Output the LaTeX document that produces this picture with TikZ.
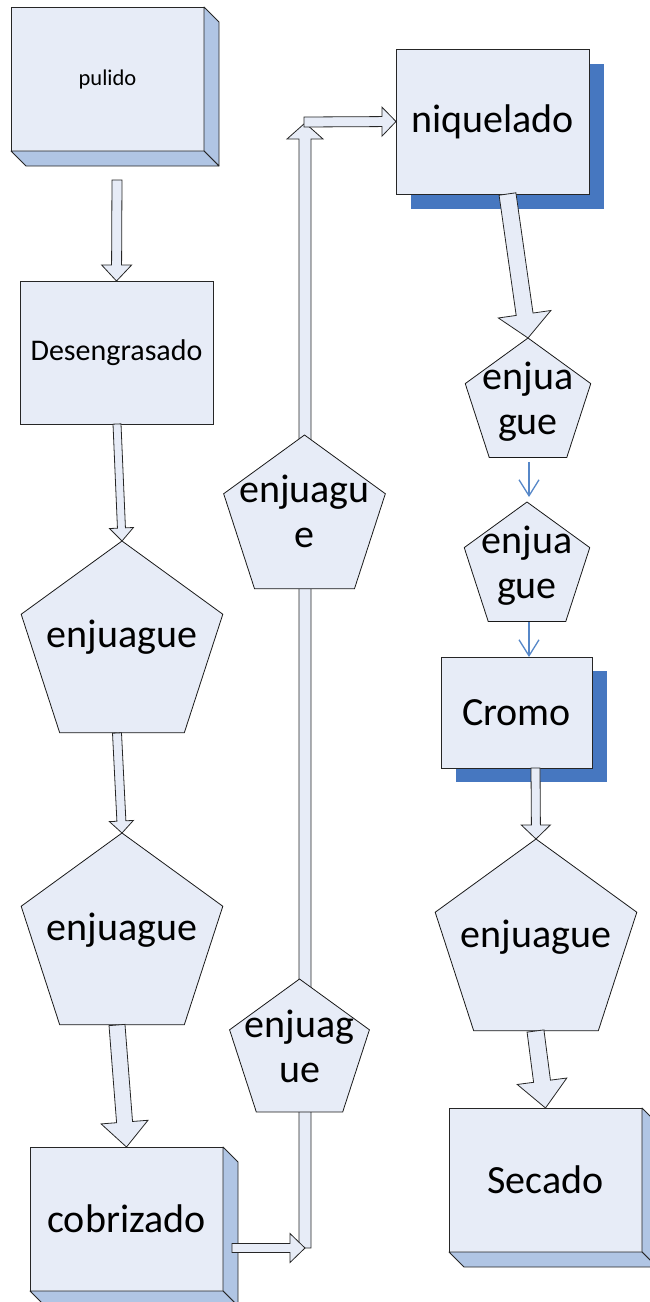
\documentclass[tikz,border=0pt]{standalone}
\usepackage{fontspec}
\setmainfont{Carlito}
\usetikzlibrary{calc,shapes.geometric,arrows.meta,shadows}
\definecolor{fillc}{RGB}{231,236,247}
\definecolor{sidec}{RGB}{176,197,228}
\definecolor{shadowc}{RGB}{70,119,192}
\definecolor{bluec}{RGB}{86,135,200}
\newcommand\barrow[5]{%
  \coordinate (bab) at ($(#2)!#5!(#1)$);
  \draw[blockarrow] ($(#1)!#3!90:(#2)$) -- ($(bab)!#3!90:(#2)$) -- ($(bab)!#4!90:(#2)$) -- (#2)
    -- ($(bab)!#4!-90:(#2)$) -- ($(bab)!#3!-90:(#2)$) -- ($(#1)!#3!-90:(#2)$) -- cycle;
}
\newcommand\threedsides[1]{%
  \draw[sideface] (#1.north east) -- ++(15,15) -- ($(#1.south east)+(15,15)$) -- (#1.south east) -- cycle;
  \draw[sideface] (#1.south west) -- ++(15,15) -- ($(#1.south east)+(15,15)$) -- (#1.south east) -- cycle;
}
\begin{document}
\begin{tikzpicture}[x=1pt,y=-1pt,
  box/.style={draw=black!85, line width=0.9pt, fill=fillc, rectangle, inner sep=0pt, outer sep=0pt},
  pentagon/.style={draw=black!90, line width=0.8pt, fill=fillc, regular polygon, regular polygon sides=5, inner sep=0pt, outer sep=0pt},
  bigtext/.style={font=\fontsize{40}{45}\selectfont, align=center},
  shad/.style={general shadow={fill=shadowc, draw=none, shadow xshift=15pt, shadow yshift=-15pt}},
  blockarrow/.style={draw=black!85, line width=0.8pt, fill=fillc, line join=miter},
  blueline/.style={draw=bluec, line width=1.3pt, -{Straight Barb[length=16pt,width=20pt,line width=1.3pt]}},
  sideface/.style={fill=sidec, draw=black!85, line width=0.8pt, line join=round}
]
\useasboundingbox (0,0) rectangle (649,1302);

% left column
\node[box, minimum width=193pt, minimum height=144pt, font=\fontsize{22.5}{26}\selectfont] (pulido) at (107.5,79) {pulido};
\threedsides{pulido}
\node[box, minimum width=193pt, minimum height=143pt, font=\fontsize{30}{34}\selectfont] (desen) at (116.5,352.5) {Desengrasado};
\node[pentagon, minimum size=212pt, label={[bigtext, yshift=10pt]center:enjuague}] (enj1) at (122,647) {};
\node[pentagon, minimum size=212pt, label={[bigtext, yshift=9pt]center:enjuague}] (enj2) at (122,939) {};
\node[box, minimum width=193pt, minimum height=144pt, font=\fontsize{40}{45}\selectfont] (cobr) at (126.5,1219) {cobrizado};
\threedsides{cobr}

% middle column: long return arrow
\coordinate (a6s) at (305,1248);
\coordinate (a6e) at (305,123);
\barrow{a6s}{a6e}{6pt}{18pt}{16pt}
\node[pentagon, minimum size=147pt, label={[bigtext, yshift=6.5pt]center:enjuag\\ue}] (enj3) at (299.5,1052.5) {};
\node[pentagon, minimum size=170pt, label={[bigtext, yshift=9pt]center:enjuagu\\e}] (enj4) at (304.5,520) {};

% right column
\node[box, shad, minimum width=193pt, minimum height=145pt, font=\fontsize{40}{45}\selectfont] (niq) at (492.5,121.5) {niquelado};
\node[pentagon, minimum size=132pt, label={[bigtext, yshift=2pt]center:enjua\\gue}] (enj5) at (528,404) {};
\node[pentagon, minimum size=132pt, label={[bigtext, yshift=2pt]center:enjua\\gue}] (enj6) at (527,568) {};
\node[box, general shadow={fill=shadowc, draw=none, shadow xshift=15pt, shadow yshift=-14pt}, minimum width=151pt, minimum height=111pt, font=\fontsize{40}{45}\selectfont] (cromo) at (516.5,712.5) {Cromo};
\node[pentagon, minimum size=212pt, label={[bigtext, yshift=8pt]center:enjuague}] (enj7) at (536,945) {};
\node[box, minimum width=193pt, minimum height=144pt, font=\fontsize{40}{45}\selectfont] (secado) at (545.5,1180) {Secado};
\threedsides{secado}

% block arrows
\coordinate (a1s) at (117,180);
\barrow{a1s}{desen.north}{5pt}{15pt}{16pt}
\coordinate (a2s) at (117,424);
\barrow{a2s}{enj1.north}{4pt}{12pt}{13pt}
\coordinate (a3s) at (117,733);
\barrow{a3s}{enj2.north}{4.5pt}{12pt}{12pt}
\coordinate (a4s) at (117,1025);
\barrow{a4s}{cobr.north}{8pt}{23.5pt}{25pt}
\coordinate (a5s) at (232,1248);
\barrow{a5s}{a6s}{4.5pt}{14.5pt}{15pt}
\coordinate (a7s) at (304,122);
\barrow{a7s}{niq.west}{5pt}{14.5pt}{14pt}
\coordinate (a8s) at (507.5,194);
\barrow{a8s}{enj5.north}{8.5pt}{26.5pt}{24pt}
\coordinate (a11s) at (535.5,768);
\barrow{a11s}{enj7.north}{4.5pt}{14.5pt}{14pt}
\coordinate (a12s) at (535.5,1031);
\barrow{a12s}{secado.north}{8.5pt}{25pt}{27pt}

% thin blue arrows
\draw[blueline] ([xshift=1pt,yshift=-4.5pt]enj5.south) -- ([xshift=2pt,yshift=5pt]enj6.north);
\draw[blueline] ([xshift=2pt,yshift=-1pt]enj6.south) -- ([xshift=2pt]enj6.south |- cromo.north);
\end{tikzpicture}
\end{document}
